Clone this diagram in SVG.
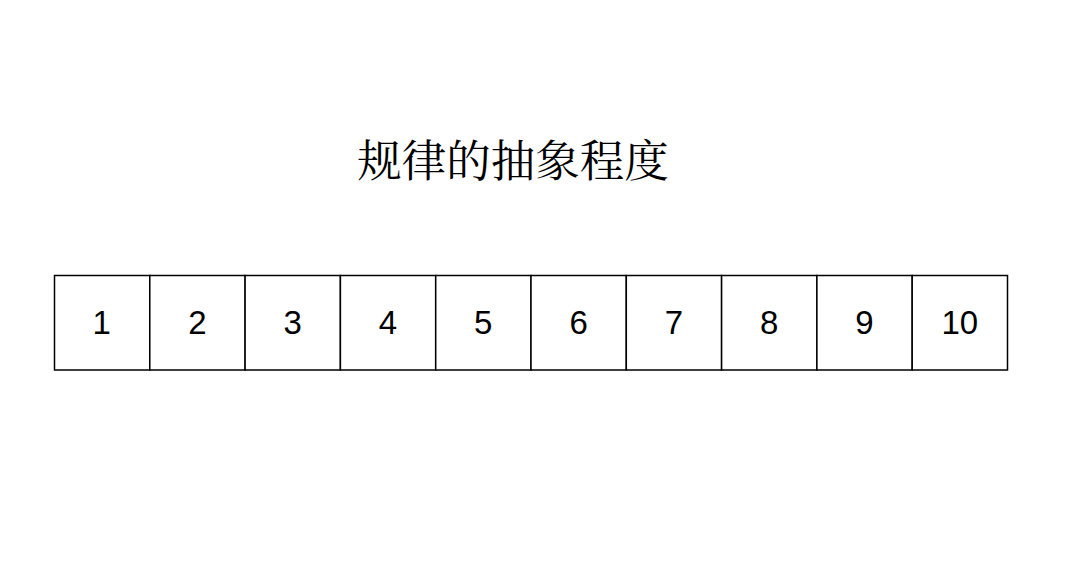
<svg xmlns="http://www.w3.org/2000/svg" width="1080" height="561" viewBox="0 0 1080 561">
<style>
.cell{fill:#ffffff;stroke:#000000;stroke-width:1.5}
.num{font-family:"Liberation Sans",Arial,sans-serif;font-size:33px;fill:#000000;text-anchor:middle}
.title{font-family:"Noto Serif CJK SC","Noto Sans CJK SC",serif;font-size:44.5px;fill:#000000;text-anchor:middle}
</style>
<rect width="1080" height="561" fill="#ffffff"/>
<g id="title"><text class="title" x="513" y="177">规律的抽象程度</text></g>
<g id="cell-1"><rect class="cell" x="54.5" y="275.5" width="95.3" height="94.5"/><text class="num" x="101.6" y="334">1</text></g>
<g id="cell-2"><rect class="cell" x="149.8" y="275.5" width="95.3" height="94.5"/><text class="num" x="197.4" y="334">2</text></g>
<g id="cell-3"><rect class="cell" x="245.1" y="275.5" width="95.3" height="94.5"/><text class="num" x="292.7" y="334">3</text></g>
<g id="cell-4"><rect class="cell" x="340.4" y="275.5" width="95.3" height="94.5"/><text class="num" x="388" y="334">4</text></g>
<g id="cell-5"><rect class="cell" x="435.7" y="275.5" width="95.3" height="94.5"/><text class="num" x="483.3" y="334">5</text></g>
<g id="cell-6"><rect class="cell" x="531" y="275.5" width="95.3" height="94.5"/><text class="num" x="578.6" y="334">6</text></g>
<g id="cell-7"><rect class="cell" x="626.3" y="275.5" width="95.3" height="94.5"/><text class="num" x="673.9" y="334">7</text></g>
<g id="cell-8"><rect class="cell" x="721.6" y="275.5" width="95.3" height="94.5"/><text class="num" x="769.2" y="334">8</text></g>
<g id="cell-9"><rect class="cell" x="816.9" y="275.5" width="95.3" height="94.5"/><text class="num" x="864.5" y="334">9</text></g>
<g id="cell-10"><rect class="cell" x="912.2" y="275.5" width="95.3" height="94.5"/><text class="num" x="959.8" y="334">10</text></g>
<g id="connectors"></g>
</svg>
